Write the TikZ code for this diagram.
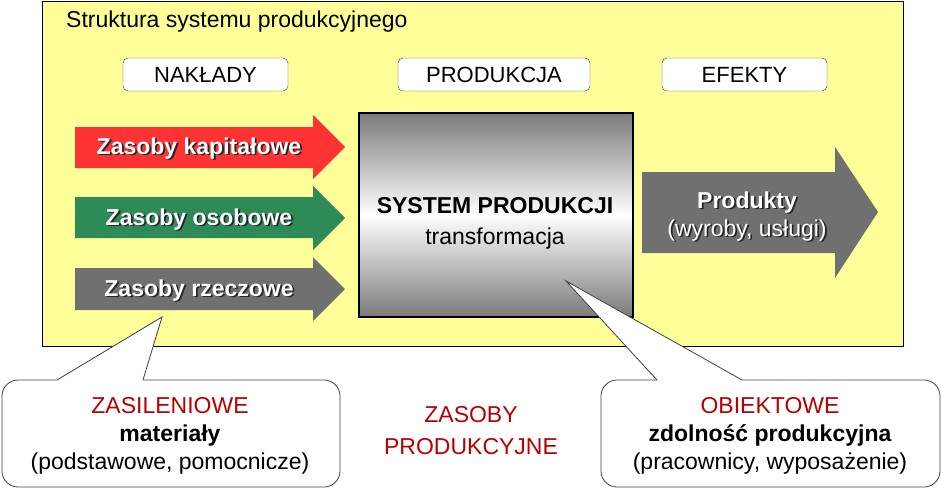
\documentclass[tikz,border=0pt]{standalone}
\usepackage{fontspec}
\setmainfont{Liberation Sans}
\usetikzlibrary{positioning}
\definecolor{frameyellow}{HTML}{FFFF99}
\definecolor{capred}{HTML}{FF3333}
\definecolor{persgreen}{HTML}{2E8B57}
\definecolor{matgray}{HTML}{707070}
\definecolor{darkred}{HTML}{B80000}
\newcommand{\shtext}[1]{\rlap{\kern1.8pt\raisebox{-1.8pt}{\color{black!85}#1}}#1}
\tikzset{
  headbox/.style={draw=black!75, fill=white, rounded corners=5pt,
    minimum height=33pt, inner sep=0pt, font=\fontsize{22}{26}\selectfont},
  arrowlabel/.style={text=white, inner sep=0pt, align=center,
    font=\bfseries\fontsize{23}{27}\selectfont},
  bubble/.style={draw=black!75, fill=white, line width=0.8pt},
  bubbletext/.style={inner sep=0pt, align=center, font=\fontsize{23}{28}\selectfont}
}
\begin{document}
\begin{tikzpicture}[x=1pt,y=-1pt]
  \useasboundingbox (0,0) rectangle (941,490);
  % frame
  \draw[fill=frameyellow, draw=black] (42,1) rectangle (903,346);
  \node[anchor=west, inner sep=0pt, font=\fontsize{23}{26}\selectfont] (title) at (66,22) {Struktura systemu produkcyjnego};
  % headers
  \node[headbox, minimum width=165pt] (naklady) at (205.5,74.5) {NAKŁADY};
  \node[headbox, minimum width=192pt] (produkcja) at (494,74.5) {PRODUKCJA};
  \node[headbox, minimum width=165pt] (efekty) at (744.5,74.5) {EFEKTY};
  % input arrows
  \draw[fill=capred, draw=none] (75,127) -- (313,127) -- (313,115) -- (345,147) -- (313,179) -- (313,168) -- (75,168) -- cycle;% capital
  \draw[fill=persgreen, draw=none] (75,197) -- (313,197) -- (313,186) -- (345,218) -- (313,250) -- (313,238) -- (75,238) -- cycle;% personal
  \draw[fill=matgray, draw=none] (75,268) -- (313,268) -- (313,257) -- (345,289) -- (313,321) -- (313,310) -- (75,310) -- cycle;% material
  \node[arrowlabel] (kapital) at (199,149) {\shtext{Zasoby kapitałowe}};
  \node[arrowlabel] (osobowe) at (199,220) {\shtext{Zasoby osobowe}};
  \node[arrowlabel] (rzeczowe) at (199,291) {\shtext{Zasoby rzeczowe}};
  % production system
  \shade[top color=black!52, bottom color=black!52, middle color=white] (359,113) rectangle (633,317);
  \draw[line width=1.5pt] (359,113) rectangle (633,317);
  \node[inner sep=0pt, font=\bfseries\fontsize{23}{26}\selectfont] (sysname) at (495,206) {SYSTEM PRODUKCJI};
  \node[inner sep=0pt, font=\fontsize{23}{26}\selectfont] (systrans) at (495,239) {transformacja};
  % output arrow
  \draw[fill=matgray, draw=none] (642,172) -- (835,172) -- (835,147) -- (878,212) -- (835,278) -- (835,253) -- (642,253) -- cycle;
  \node[arrowlabel, font=\fontsize{23}{28}\selectfont] (produkty) at (747,217) {\shtext{\bfseries Produkty}\\\shtext{(wyroby, usługi)}};
  % callouts
  \coordinate (ltip) at (162,317);
  \coordinate (rtip) at (566,281);
  \draw[bubble, rounded corners=16pt] (2,380) rectangle (340,487);
  \fill[white] (57,380) -- (ltip) -- (143,380) -- (142,381.5) -- (58,381.5) -- cycle;
  \draw[bubble, fill=none] (57,380) -- (ltip) -- (143,380);
  \draw[bubble, rounded corners=16pt] (601,380) rectangle (940,487);
  \fill[white] (657,380) -- (rtip) -- (742,380) -- (741,381.5) -- (658,381.5) -- cycle;
  \draw[bubble, fill=none] (657,380) -- (rtip) -- (742,380);
  \node[bubbletext] (zasil) at (170,436) {\textcolor{darkred}{ZASILENIOWE}\\\textbf{materiały}\\(podstawowe, pomocnicze)};
  \node[bubbletext] (obiekt) at (770,436) {\textcolor{darkred}{OBIEKTOWE}\\\textbf{zdolność produkcyjna}\\(pracownicy, wyposażenie)};
  \node[bubbletext, text=darkred, font=\fontsize{23}{32}\selectfont] (zasoby) at (471,431) {ZASOBY\\PRODUKCYJNE};
\end{tikzpicture}
\end{document}
